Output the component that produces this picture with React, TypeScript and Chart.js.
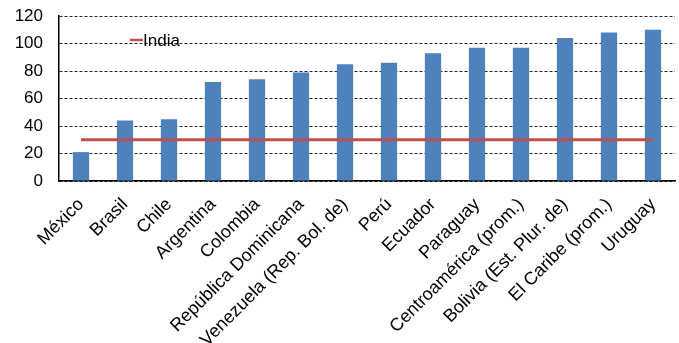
import React, { useEffect, useRef } from "react";
import { Chart, registerables } from "chart.js";

Chart.register(...registerables);

const categories = [
  "México",
  "Brasil",
  "Chile",
  "Argentina",
  "Colombia",
  "República Dominicana",
  "Venezuela (Rep. Bol. de)",
  "Perú",
  "Ecuador",
  "Paraguay",
  "Centroamérica (prom.)",
  "Bolivia (Est. Plur. de)",
  "El Caribe (prom.)",
  "Uruguay",
];
const barValues = [21, 44, 45, 72, 74, 79, 85, 86, 93, 97, 97, 104, 108, 110];
const indiaValues = [30, 30, 30, 30, 30, 30, 30, 30, 30, 30, 30, 30, 30, 30];
const lineLabel = "India";

const FONT = "'Liberation Sans', Arial, sans-serif";

const legendPlugin = {
  id: "customLegend",
  afterDraw(chart: any) {
    const ctx = chart.ctx;
    const x = 130;
    const y = 40;
    ctx.save();
    ctx.strokeStyle = "#C0504D";
    ctx.lineWidth = 2.5;
    ctx.beginPath();
    ctx.moveTo(x, y);
    ctx.lineTo(x + 13, y);
    ctx.stroke();
    ctx.fillStyle = "#000";
    ctx.font = `17px ${FONT}`;
    ctx.textBaseline = "middle";
    ctx.textAlign = "left";
    ctx.fillText(lineLabel, x + 13, y + 1);
    ctx.restore();
  },
};

export default function App() {
  const ref = useRef<HTMLCanvasElement>(null);
  useEffect(() => {
    const chart = new Chart(ref.current!, {
      type: "bar",
      data: {
        labels: categories,
        datasets: [
          {
            type: "line",
            label: lineLabel,
            data: indiaValues,
            borderColor: "#C0504D",
            backgroundColor: "#C0504D",
            borderWidth: 3,
            pointRadius: 0,
            order: 0,
          } as any,
          {
            type: "bar",
            label: "Valor",
            data: barValues,
            backgroundColor: "#4F81BD",
            barPercentage: 0.37,
            categoryPercentage: 1,
            order: 1,
          },
        ],
      },
      options: {
        animation: false,
        responsive: false,
        maintainAspectRatio: false,
        layout: { padding: { top: 16, right: 4, left: 0, bottom: 0 } },
        plugins: { legend: { display: false }, tooltip: { enabled: false } },
        scales: {
          x: {
            grid: { display: false, drawTicks: false },
            border: { display: true, color: "#000", width: 1.5 },
            ticks: {
              color: "#000",
              font: { family: FONT, size: 18 },
              minRotation: 45,
              maxRotation: 45,
              padding: 13,
              autoSkip: false,
            },
            afterFit(scale: any) {
              scale.height = 162;
              scale.paddingLeft = 0;
              scale.paddingRight = 0;
            },
          },
          y: {
            min: 0,
            max: 120,
            ticks: {
              stepSize: 20,
              color: "#000",
              font: { family: FONT, size: 17 },
              padding: 16,
            },
            grid: { color: "#222", lineWidth: 1, drawTicks: false },
            border: { display: true, color: "#000", width: 1.5, dash: [3, 2] },
            afterFit(scale: any) {
              scale.width = 59;
              scale.paddingTop = 0;
              scale.paddingBottom = 0;
            },
          },
        },
      },
      plugins: [legendPlugin],
    });
    return () => chart.destroy();
  }, []);
  return (
    <div style={{ position: "fixed", left: 0, top: 0, width: 679, height: 343, background: "#fff" }}>
      <canvas ref={ref} width={679} height={343} style={{ width: 679, height: 343 }} />
    </div>
  );
}
